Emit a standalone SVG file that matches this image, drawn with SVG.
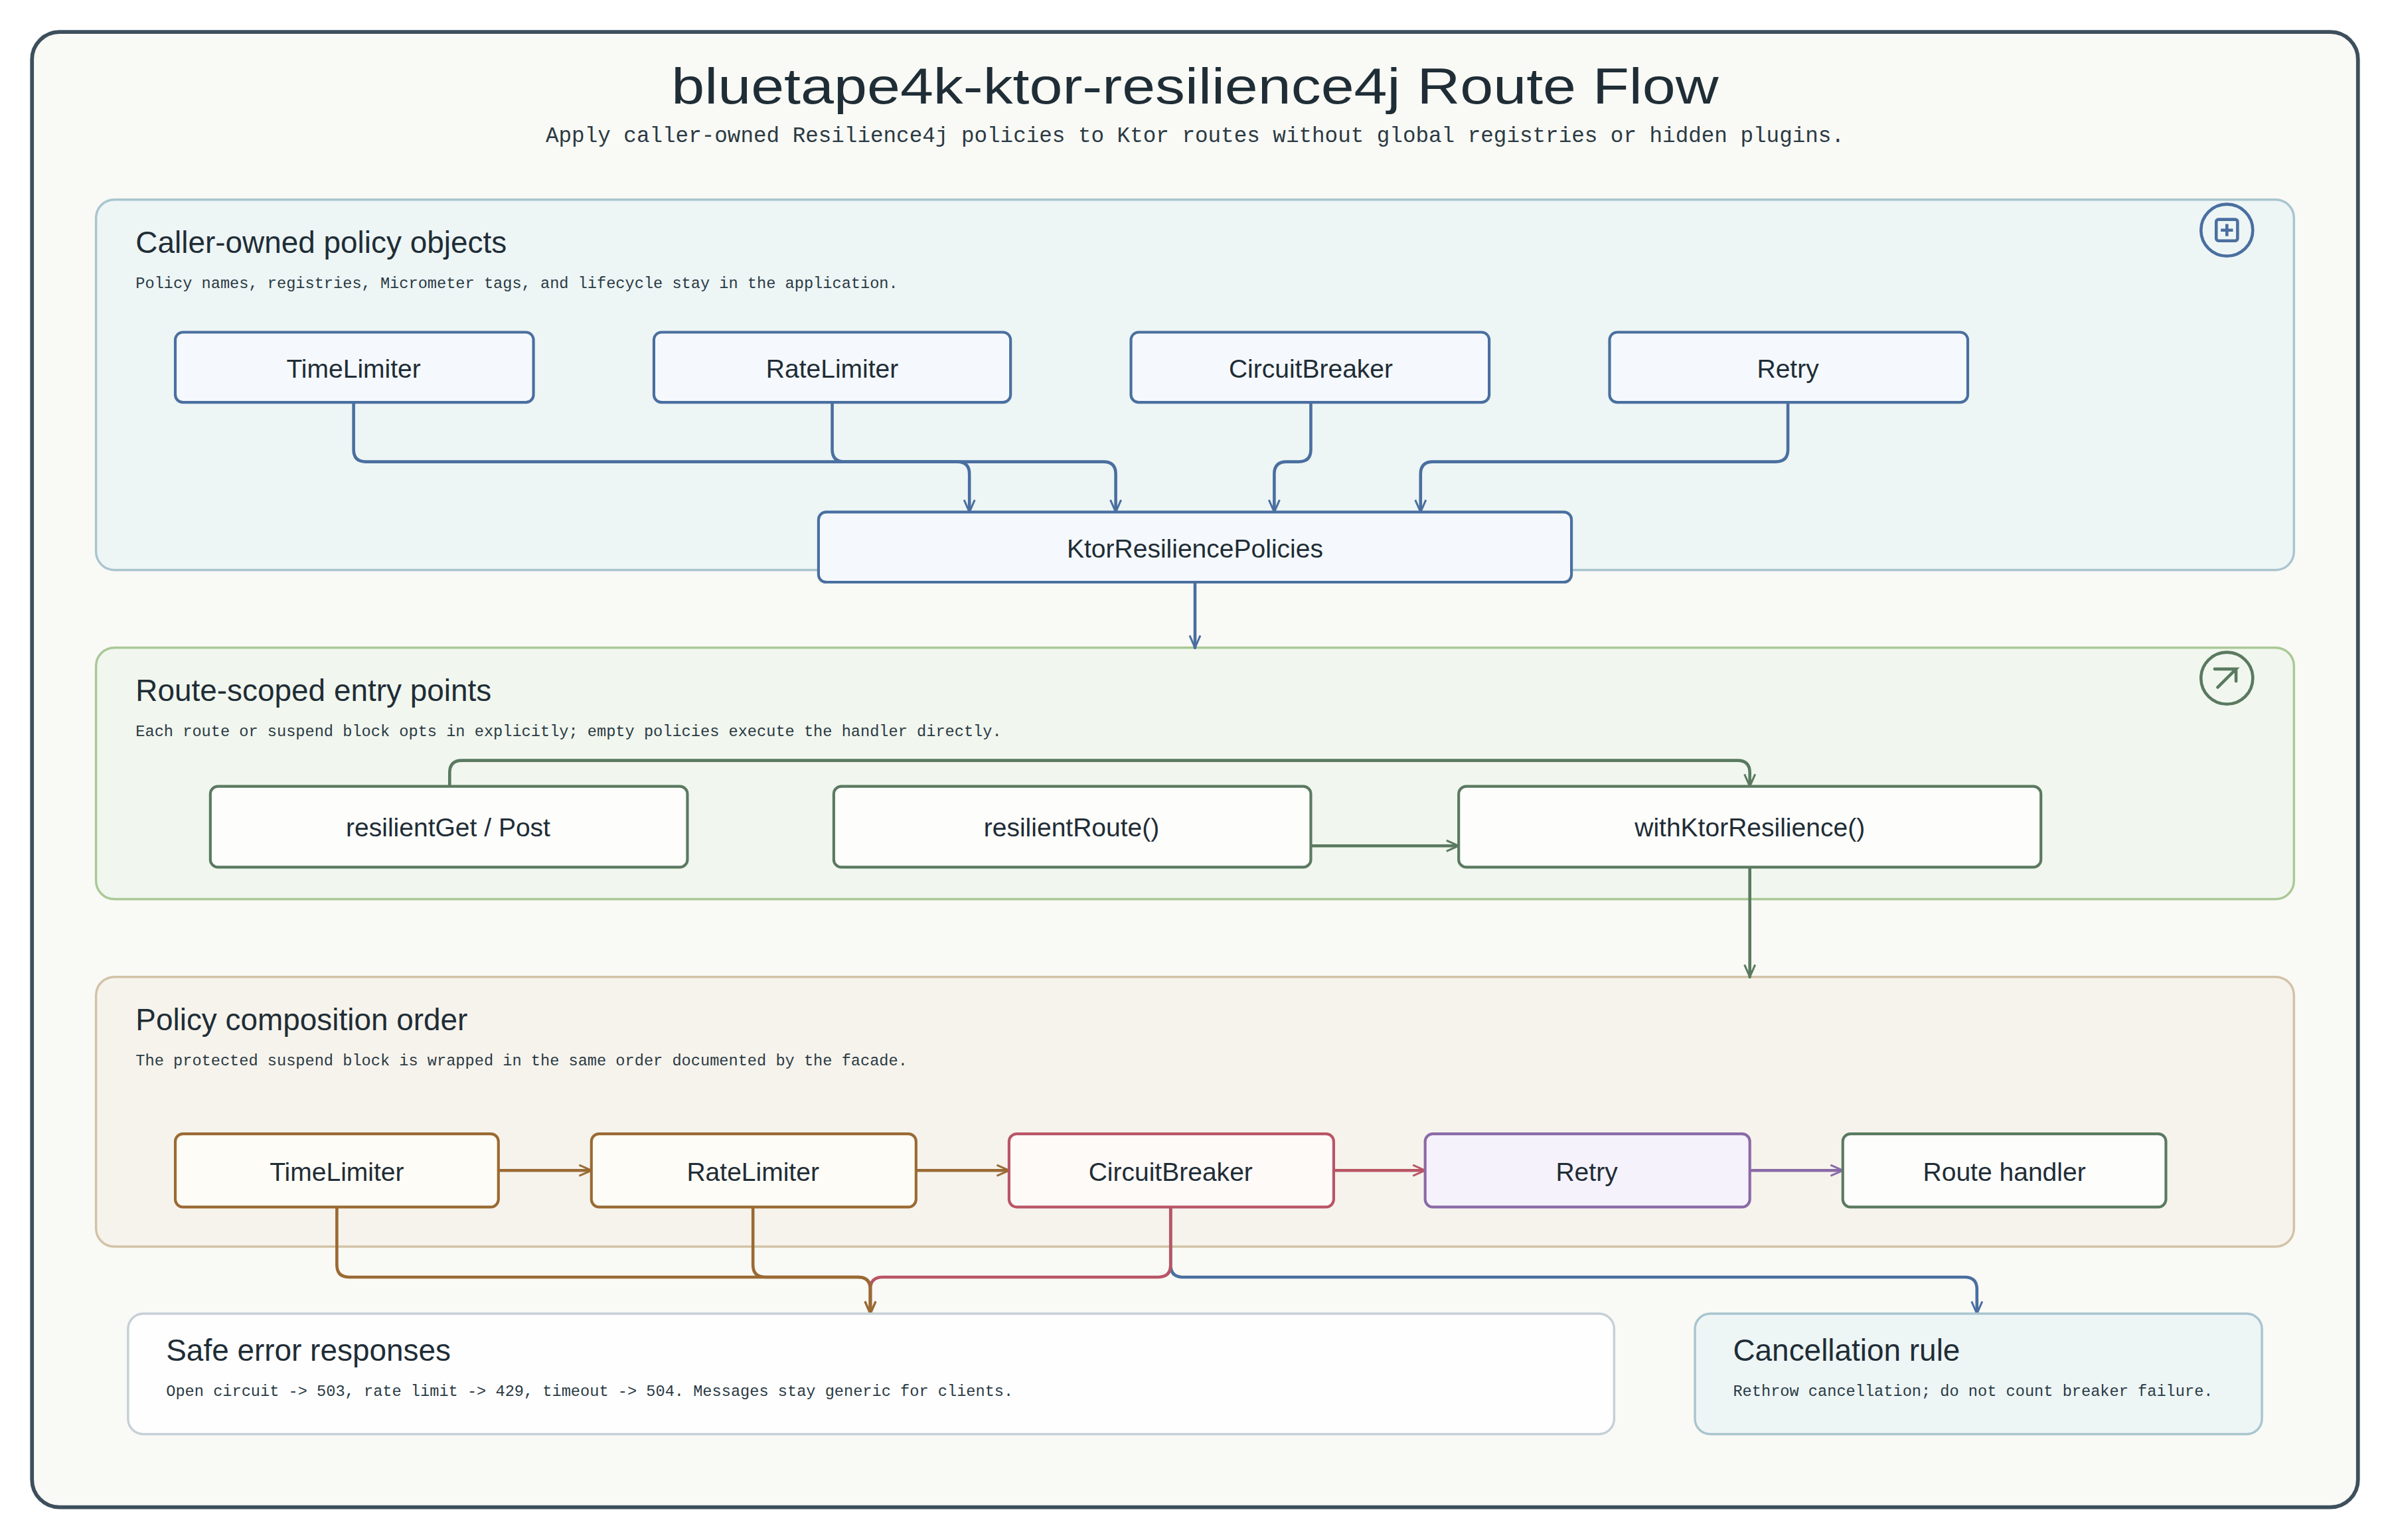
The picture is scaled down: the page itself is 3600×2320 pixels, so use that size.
<svg xmlns="http://www.w3.org/2000/svg" width="3600" height="2320" viewBox="0 0 3600 2320">
<style>
.hand{font-family:"Liberation Sans","DejaVu Sans",sans-serif;fill:#1f2d36}
.mono{font-family:"Liberation Mono","DejaVu Sans Mono",monospace;fill:#2a3a44}
.ptitle{font-size:20px}
.pdesc{font-size:10.3px}
.nlabel{font-size:17px;text-anchor:middle}
.conn{fill:none;stroke-width:2;stroke-linejoin:round;stroke-linecap:round}
</style>
<defs>
<marker id="ab" viewBox="0 0 10 10" refX="9" refY="5" markerWidth="10" markerHeight="10" orient="auto-start-reverse" markerUnits="userSpaceOnUse"><path d="M1,1.5 L9,5 L1,8.5" fill="none" stroke="#4a6fa0" stroke-width="1.3"/></marker>
<marker id="ag" viewBox="0 0 10 10" refX="9" refY="5" markerWidth="10" markerHeight="10" orient="auto-start-reverse" markerUnits="userSpaceOnUse"><path d="M1,1.5 L9,5 L1,8.5" fill="none" stroke="#5a7a60" stroke-width="1.3"/></marker>
<marker id="abr" viewBox="0 0 10 10" refX="9" refY="5" markerWidth="10" markerHeight="10" orient="auto-start-reverse" markerUnits="userSpaceOnUse"><path d="M1,1.5 L9,5 L1,8.5" fill="none" stroke="#9a6a33" stroke-width="1.3"/></marker>
<marker id="ar" viewBox="0 0 10 10" refX="9" refY="5" markerWidth="10" markerHeight="10" orient="auto-start-reverse" markerUnits="userSpaceOnUse"><path d="M1,1.5 L9,5 L1,8.5" fill="none" stroke="#b85566" stroke-width="1.3"/></marker>
<marker id="ap" viewBox="0 0 10 10" refX="9" refY="5" markerWidth="10" markerHeight="10" orient="auto-start-reverse" markerUnits="userSpaceOnUse"><path d="M1,1.5 L9,5 L1,8.5" fill="none" stroke="#8a6aa8" stroke-width="1.3"/></marker>
</defs>
<rect width="3600" height="2320" fill="#ffffff"/>
<g transform="scale(2.2959)">
<g id="frame">
<rect x="21" y="21" width="1526" height="968" rx="18" fill="#f9f9f5" stroke="#3d4f5c" stroke-width="2.5"/>
<text class="hand" x="784" y="68" font-size="33" text-anchor="middle" textLength="687" lengthAdjust="spacingAndGlyphs">bluetape4k-ktor-resilience4j Route Flow</text>
<text class="mono" x="784" y="93" font-size="14.2" text-anchor="middle">Apply caller-owned Resilience4j policies to Ktor routes without global registries or hidden plugins.</text>
</g>
<g id="panel-policies">
<rect x="63" y="131" width="1442" height="243" rx="12" fill="#edf5f5" stroke="#a9c5cf" stroke-width="1.5"/>
<text class="hand ptitle" x="89" y="166">Caller-owned policy objects</text>
<text class="mono pdesc" x="89" y="189">Policy names, registries, Micrometer tags, and lifecycle stay in the application.</text>
<circle cx="1461" cy="151" r="17" fill="none" stroke="#4a6fa0" stroke-width="2"/>
<rect x="1454" y="144" width="14" height="14" rx="1.5" fill="none" stroke="#4a6fa0" stroke-width="2"/>
<path d="M1461,147 V155 M1457,151 H1465" stroke="#4a6fa0" stroke-width="2"/>
</g>
<g id="panel-routes">
<rect x="63" y="425" width="1442" height="165" rx="12" fill="#f1f6ee" stroke="#a9c996" stroke-width="1.5"/>
<text class="hand ptitle" x="89" y="460">Route-scoped entry points</text>
<text class="mono pdesc" x="89" y="483">Each route or suspend block opts in explicitly; empty policies execute the handler directly.</text>
<circle cx="1461" cy="445" r="17" fill="none" stroke="#5a7a60" stroke-width="2"/>
<path d="M1453,439 H1467 L1455,451 M1459,439 H1467 V447" fill="none" stroke="#5a7a60" stroke-width="2" stroke-linecap="round"/>
</g>
<g id="panel-order">
<rect x="63" y="641" width="1442" height="177" rx="12" fill="#f6f3ec" stroke="#d2c3a8" stroke-width="1.5"/>
<text class="hand ptitle" x="89" y="676">Policy composition order</text>
<text class="mono pdesc" x="89" y="699">The protected suspend block is wrapped in the same order documented by the facade.</text>
</g>
<g id="connectors">
<path class="conn" stroke="#4a6fa0" d="M232,264 V295 Q232,303 240,303 H628 Q636,303 636,311 V336" marker-end="url(#ab)"/>
<path class="conn" stroke="#4a6fa0" d="M546,264 V295 Q546,303 554,303 H724 Q732,303 732,311 V336" marker-end="url(#ab)"/>
<path class="conn" stroke="#4a6fa0" d="M860,264 V295 Q860,303 852,303 H844 Q836,303 836,311 V336" marker-end="url(#ab)"/>
<path class="conn" stroke="#4a6fa0" d="M1173,264 V295 Q1173,303 1165,303 H940 Q932,303 932,311 V336" marker-end="url(#ab)"/>
<path class="conn" stroke="#4a6fa0" d="M784,382 V425" marker-end="url(#ab)"/>
<path class="conn" stroke="#5a7a60" d="M295,516 V507 Q295,499 303,499 H1140 Q1148,499 1148,507 V516" marker-end="url(#ag)"/>
<path class="conn" stroke="#5a7a60" stroke-width="2.5" d="M860,555 H957" marker-end="url(#ag)"/>
<path class="conn" stroke="#5a7a60" d="M1148,569 V641" marker-end="url(#ag)"/>
<path class="conn" stroke="#9a6a33" stroke-width="2.5" d="M327,768 H388" marker-end="url(#abr)"/>
<path class="conn" stroke="#9a6a33" stroke-width="2.5" d="M601,768 H662" marker-end="url(#abr)"/>
<path class="conn" stroke="#b85566" stroke-width="2.5" d="M875,768 H935" marker-end="url(#ar)"/>
<path class="conn" stroke="#8a6aa8" stroke-width="2.5" d="M1148,768 H1209" marker-end="url(#ap)"/>
<path class="conn" stroke="#4a6fa0" d="M768,792 V830 Q768,838 776,838 H1289 Q1297,838 1297,846 V862" marker-end="url(#ab)"/>
<path class="conn" stroke="#b85566" d="M768,792 V830 Q768,838 760,838 H579 Q571,838 571,846 V862" marker-end="url(#ar)"/>
<path class="conn" stroke="#9a6a33" d="M494,792 V830 Q494,838 502,838 H563 Q571,838 571,846 V862" marker-end="url(#abr)"/>
<path class="conn" stroke="#9a6a33" d="M221,792 V830 Q221,838 229,838 H563 Q571,838 571,846 V862" marker-end="url(#abr)"/>
</g>
<g id="n-timelimiter"><rect x="115" y="218" width="235" height="46" rx="5" fill="#f5f9fd" stroke="#4a6fa0" stroke-width="1.8"/><text class="hand nlabel" x="232" y="248">TimeLimiter</text></g>
<g id="n-ratelimiter"><rect x="429" y="218" width="234" height="46" rx="5" fill="#f5f9fd" stroke="#4a6fa0" stroke-width="1.8"/><text class="hand nlabel" x="546" y="248">RateLimiter</text></g>
<g id="n-circuitbreaker"><rect x="742" y="218" width="235" height="46" rx="5" fill="#f5f9fd" stroke="#4a6fa0" stroke-width="1.8"/><text class="hand nlabel" x="860" y="248">CircuitBreaker</text></g>
<g id="n-retry"><rect x="1056" y="218" width="235" height="46" rx="5" fill="#f5f9fd" stroke="#4a6fa0" stroke-width="1.8"/><text class="hand nlabel" x="1173" y="248">Retry</text></g>
<g id="n-policies"><rect x="537" y="336" width="494" height="46" rx="5" fill="#f5f9fd" stroke="#4a6fa0" stroke-width="1.8"/><text class="hand nlabel" x="784" y="366">KtorResiliencePolicies</text></g>
<g id="n-resilientget"><rect x="138" y="516" width="313" height="53" rx="5" fill="#fdfdfc" stroke="#5a7a60" stroke-width="1.8"/><text class="hand nlabel" x="294" y="549">resilientGet / Post</text></g>
<g id="n-resilientroute"><rect x="547" y="516" width="313" height="53" rx="5" fill="#fdfdfc" stroke="#5a7a60" stroke-width="1.8"/><text class="hand nlabel" x="703" y="549">resilientRoute()</text></g>
<g id="n-withktor"><rect x="957" y="516" width="382" height="53" rx="5" fill="#fdfdfc" stroke="#5a7a60" stroke-width="1.8"/><text class="hand nlabel" x="1148" y="549">withKtorResilience()</text></g>
<g id="o-timelimiter"><rect x="115" y="744" width="212" height="48" rx="5" fill="#fefcf6" stroke="#9a6a33" stroke-width="1.8"/><text class="hand nlabel" x="221" y="775">TimeLimiter</text></g>
<g id="o-ratelimiter"><rect x="388" y="744" width="213" height="48" rx="5" fill="#fefcf6" stroke="#9a6a33" stroke-width="1.8"/><text class="hand nlabel" x="494" y="775">RateLimiter</text></g>
<g id="o-circuitbreaker"><rect x="662" y="744" width="213" height="48" rx="5" fill="#fefaf8" stroke="#b85566" stroke-width="1.8"/><text class="hand nlabel" x="768" y="775">CircuitBreaker</text></g>
<g id="o-retry"><rect x="935" y="744" width="213" height="48" rx="5" fill="#f6f2fc" stroke="#8a6aa8" stroke-width="1.8"/><text class="hand nlabel" x="1041" y="775">Retry</text></g>
<g id="o-handler"><rect x="1209" y="744" width="212" height="48" rx="5" fill="#fdfdfc" stroke="#5a7a60" stroke-width="1.8"/><text class="hand nlabel" x="1315" y="775">Route handler</text></g>
<g id="n-errors"><rect x="84" y="862" width="975" height="79" rx="10" fill="#fefefe" stroke="#c5d0d6" stroke-width="1.5"/><text class="hand ptitle" x="109" y="893">Safe error responses</text><text class="mono pdesc" x="109" y="916">Open circuit -&gt; 503, rate limit -&gt; 429, timeout -&gt; 504. Messages stay generic for clients.</text></g>
<g id="n-cancel"><rect x="1112" y="862" width="372" height="79" rx="10" fill="#edf5f5" stroke="#a9c5cf" stroke-width="1.5"/><text class="hand ptitle" x="1137" y="893">Cancellation rule</text><text class="mono pdesc" x="1137" y="916">Rethrow cancellation; do not count breaker failure.</text></g>
</g>
</svg>
